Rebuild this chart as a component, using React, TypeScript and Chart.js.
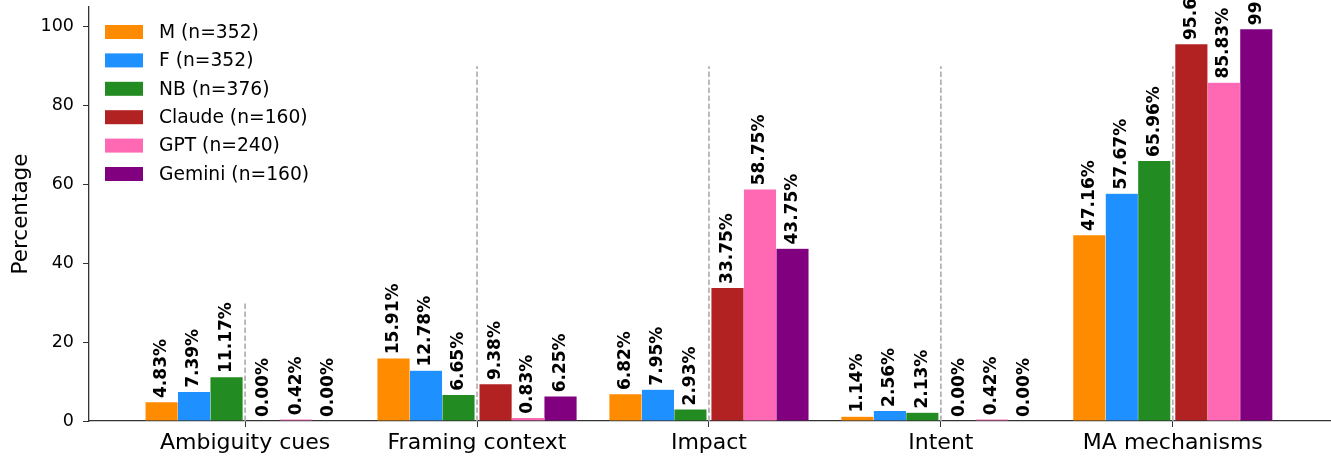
import React, { useEffect, useRef } from "react";
import { Chart, registerables } from "chart.js";

Chart.register(...registerables);

const CATEGORIES = ["Ambiguity cues", "Framing context", "Impact", "Intent", "MA mechanisms"];
const SERIES_NAMES = ["M (n=352)", "F (n=352)", "NB (n=376)", "Claude (n=160)", "GPT (n=240)", "Gemini (n=160)"];
const M_VALUES = [4.83, 15.91, 6.82, 1.14, 47.16];
const F_VALUES = [7.39, 12.78, 7.95, 2.56, 57.67];
const NB_VALUES = [11.17, 6.65, 2.93, 2.13, 65.96];
const CLAUDE_VALUES = [0.0, 9.38, 33.75, 0.0, 95.62];
const GPT_VALUES = [0.42, 0.83, 58.75, 0.42, 85.83];
const GEMINI_VALUES = [0.0, 6.25, 43.75, 0.0, 99.38];
const DIVIDER_HEIGHTS = [30, 90, 90, 90, 90];
const Y_TICKS = [0, 20, 40, 60, 80, 100];

const COLORS = ["#ff8c00", "#1e90ff", "#228b22", "#b22222", "#ff69b4", "#800080"];
const BAR_W = 0.14;
const GAP = 0.02;
// series offsets: humans left of center, models right of center
const OFFSETS = [
  -(GAP / 2 + BAR_W / 2 + 2 * BAR_W),
  -(GAP / 2 + BAR_W / 2 + BAR_W),
  -(GAP / 2 + BAR_W / 2),
  GAP / 2 + BAR_W / 2,
  GAP / 2 + BAR_W / 2 + BAR_W,
  GAP / 2 + BAR_W / 2 + 2 * BAR_W,
];

const FONT = "'DejaVu Sans', sans-serif";

export default function App() {
  const ref = useRef<HTMLCanvasElement | null>(null);

  useEffect(() => {
    if (!ref.current) return;
    const allSeries = [M_VALUES, F_VALUES, NB_VALUES, CLAUDE_VALUES, GPT_VALUES, GEMINI_VALUES];

    const barSets = allSeries.map((vals, s) => ({
      type: "bar" as const,
      label: SERIES_NAMES[s],
      data: vals.map((v, i) => ({ x: i + OFFSETS[s], y: v })),
      backgroundColor: COLORS[s],
      borderColor: "rgba(255,255,255,0.35)",
      borderWidth: 0.5,
      barThickness: 32.5,
      grouped: false,
      order: 1,
    }));

    const dividerData: any[] = [];
    DIVIDER_HEIGHTS.forEach((h, i) => {
      dividerData.push({ x: i, y: 0 });
      dividerData.push({ x: i, y: h });
      dividerData.push({ x: i + 0.001, y: null });
    });

    const dividerSet = {
      type: "line" as const,
      label: "divider",
      data: dividerData,
      borderColor: "#b0b0b0",
      borderWidth: 1.7,
      borderDash: [5.5, 2.5],
      pointRadius: 0,
      spanGaps: false,
      fill: false,
      order: 2,
    };

    const labelPlugin = {
      id: "barLabels",
      afterDatasetsDraw(chart: any) {
        const ctx = chart.ctx;
        ctx.save();
        ctx.font = `bold 17px ${FONT}`;
        ctx.fillStyle = "#000";
        ctx.textAlign = "left";
        ctx.textBaseline = "middle";
        chart.data.datasets.forEach((ds: any, di: number) => {
          if (ds.type !== "bar") return;
          const meta = chart.getDatasetMeta(di);
          meta.data.forEach((el: any, i: number) => {
            const v = ds.data[i].y;
            ctx.save();
            ctx.translate(el.x, el.y - 4);
            ctx.rotate(-Math.PI / 2);
            ctx.fillText(v.toFixed(2) + "%", 0, 0);
            ctx.restore();
          });
        });
        ctx.restore();
      },
    };

    const legendPlugin = {
      id: "customLegend",
      afterDraw(chart: any) {
        const ctx = chart.ctx;
        const a = chart.chartArea;
        ctx.save();
        ctx.font = `18.7px ${FONT}`;
        ctx.textAlign = "left";
        ctx.textBaseline = "middle";
        SERIES_NAMES.forEach((name, s) => {
          const cy = a.top + 25 + s * 28.4;
          ctx.fillStyle = COLORS[s];
          ctx.fillRect(a.left + 16, cy - 7, 38, 14);
          ctx.fillStyle = "#000";
          ctx.fillText(name, a.left + 70, cy + 1);
        });
        ctx.restore();
      },
    };

    const chart = new Chart(ref.current, {
      type: "bar",
      data: { datasets: [...barSets, dividerSet] as any },
      plugins: [labelPlugin, legendPlugin],
      options: {
        animation: false,
        responsive: false,
        maintainAspectRatio: false,
        layout: { padding: { top: 7, right: 0, left: 0, bottom: 0 } },
        plugins: { legend: { display: false }, tooltip: { enabled: false } },
        scales: {
          x: {
            type: "linear",
            min: -0.673,
            max: 4.682,
            offset: false,
            grid: { offset: false, drawOnChartArea: false, drawTicks: true, tickLength: 6, color: "#333", lineWidth: 1 },
            border: { display: true, color: "#333", width: 1.3 },
            afterBuildTicks: (scale: any) => {
              scale.ticks = CATEGORIES.map((_, i) => ({ value: i }));
            },
            afterFit: (scale: any) => {
              scale.height = 41;
              scale.paddingLeft = 0;
              scale.paddingRight = 0;
            },
            ticks: {
              autoSkip: false,
              maxRotation: 0,
              padding: 3,
              color: "#000",
              font: { family: FONT, size: 22 },
              callback: (v: any) => CATEGORIES[Math.round(v)] ?? "",
            },
          },
          y: {
            type: "linear",
            min: 0,
            max: 105,
            afterBuildTicks: (scale: any) => {
              scale.ticks = Y_TICKS.map((v) => ({ value: v }));
            },
            afterFit: (scale: any) => {
              scale.width = 89;
              scale.paddingTop = 0;
              scale.paddingBottom = 0;
            },
            grid: { drawOnChartArea: false, drawTicks: true, tickLength: 6, color: "#333", lineWidth: 1 },
            border: { display: true, color: "#333", width: 1.3 },
            ticks: {
              padding: 9,
              color: "#000",
              font: { family: FONT, size: 17.5 },
            },
            title: {
              display: true,
              text: "Percentage",
              color: "#000",
              font: { family: FONT, size: 21.5 },
              padding: { top: 9, bottom: 0 },
            },
          },
        },
      } as any,
    });
    return () => chart.destroy();
  }, []);

  return (
    <div style={{ position: "fixed", left: 0, top: 0, width: 1331, height: 462, background: "#fff" }}>
      <canvas ref={ref} width={1331} height={462} style={{ width: 1331, height: 462, display: "block" }} />
    </div>
  );
}
